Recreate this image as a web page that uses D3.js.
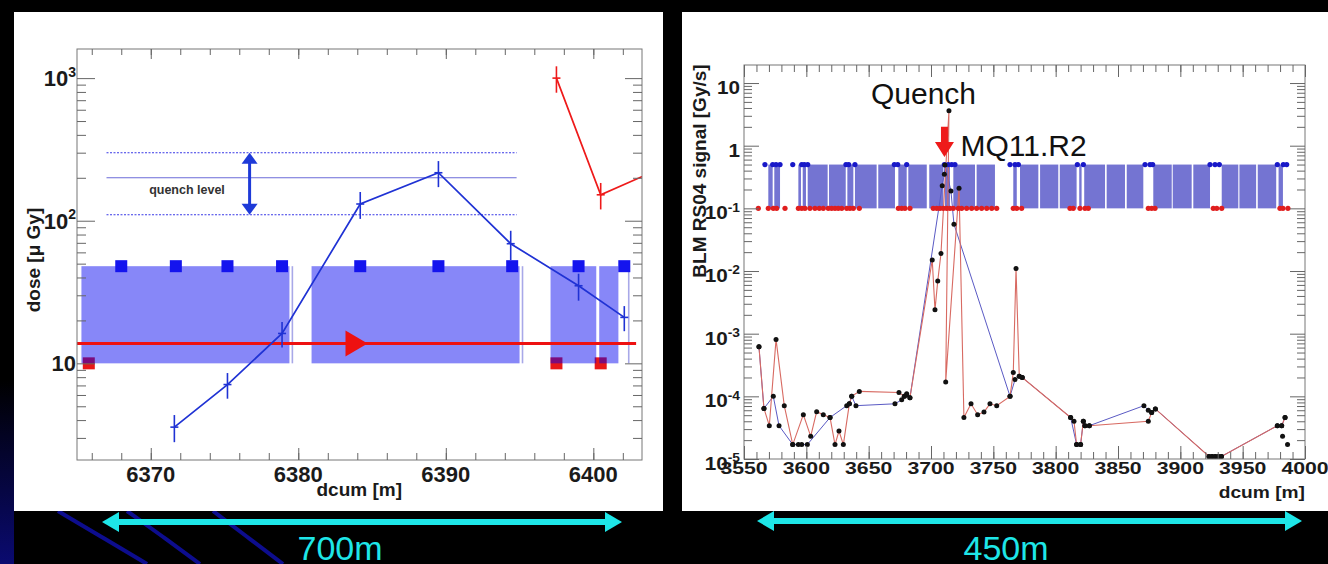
<!DOCTYPE html>
<html>
<head>
<meta charset="utf-8">
<script src="https://cdn.jsdelivr.net/npm/d3@7"></script>
<style>
body { margin: 0; background: #000; }
text { font-family: "Liberation Sans", Arial, sans-serif; }
</style>
</head>
<body>
<script>
// ---------- left plot : dose vs dcum ----------
var doseX   = [6371.6, 6375.2, 6378.9, 6384.2, 6389.5, 6394.4, 6399.0, 6402.1];
var doseY   = [3.57, 7.1, 16.2, 131, 217, 69, 35, 21];
var doseErr = [0.77, 1.45, 3.3, 28, 45, 16, 7.5, 4.2];
var doseRedX   = [6397.5, 6400.5, 6406.0];
var doseRedY   = [1000, 152, 270];
var doseRedErr = [210, 32, 0];
var quenchLevel = [110, 200, 300];          // low, nominal, high
var leftBands = [[6365.3, 6379.4], [6380.9, 6395.0], [6397.1, 6400.2], [6400.4, 6401.7]];
var leftBandRange = [10, 48];
var leftGaps = [6379.6, 6395.2, 6402.4];
var leftBlueMon = [6368.0, 6371.7, 6375.2, 6378.9, 6384.2, 6389.5, 6394.5, 6399.0, 6402.1];
var leftRedMon  = [6365.8, 6397.5, 6400.5];
var beamDose = 13.8;
var beamArrowX = [6383.2, 6384.7];
var leftXTicks = [6370, 6380, 6390, 6400];
var leftYTicks = [10, 100, 1000];
var leftYLabels = [["10", ""], ["10", "2"], ["10", "3"]];

// ---------- right plot : BLM signal vs dcum ----------
var blmRedX = [3562, 3566, 3570.3, 3575.7, 3582.3, 3589.1, 3597.6, 3603.5, 3608.3, 3613.6,
  3619, 3623, 3626.2, 3629.7, 3634.5, 3636.4, 3642.5, 3674.3, 3678.6, 3680.5,
  3683.1, 3701, 3703.2, 3705.4, 3708, 3714.4, 3711.8, 3722.5, 3726.4, 3732.1,
  3737.4, 3742.5, 3747.3, 3752.7, 3763.4, 3766, 3768.2, 3770.8, 3773.2, 3812,
  3814.7, 3816.8, 3820, 3822.2, 3823.5, 3827, 3874.3, 3877, 3880, 3923,
  3925.5, 3928, 3930.5, 3933, 3977.8, 3981.3, 3984];
var blmRedY = [6.2e-4, 6.4e-5, 3.4e-5, 8.1e-4, 7.1e-5, 1.7e-5, 5.1e-5, 2.3e-5, 5.7e-5, 5.1e-5,
  4.6e-5, 1.7e-5, 2.8e-5, 1.7e-5, 7.6e-5, 1.0e-4, 1.2e-4, 1.15e-4, 1.0e-4, 1.1e-4,
  9.5e-5, 1.5e-2, 2.4e-3, 6.9e-3, 1.9e-2, 3.6, 1.7e-4, 0.21, 4.6e-5, 7.6e-5,
  5.1e-5, 5.6e-5, 7.6e-5, 7.1e-5, 1.0e-4, 2.4e-4, 1.1e-2, 2.1e-4, 2.0e-4, 4.6e-5,
  4.0e-5, 1.7e-5, 1.7e-5, 4.0e-5, 3.4e-5, 3.4e-5, 4.0e-5, 5.5e-5, 6.3e-5, 1.1e-5,
  1.1e-5, 1.1e-5, 1.1e-5, 1.1e-5, 3.4e-5, 3.4e-5, 4.6e-5];
var blmBlueX = [3562, 3566, 3573.5, 3578.1, 3589.1, 3593.6, 3596.3, 3600.8, 3619, 3632.4,
  3634.5, 3636.4, 3639.8, 3671.1, 3676.5, 3678.6, 3680.5, 3683.1, 3709, 3710.7,
  3711.2, 3716, 3718.4, 3763.4, 3767.4, 3770.8, 3773.2, 3812, 3816.8, 3820,
  3822.2, 3823.5, 3827, 3870.8, 3874.3, 3877, 3880, 3923, 3925.5, 3928,
  3930.5, 3933, 3977.8, 3981.3, 3984];
var blmBlueY = [6.2e-4, 6.4e-5, 1.0e-4, 3.4e-5, 1.7e-5, 1.7e-5, 1.7e-5, 1.7e-5, 4.6e-5, 7.1e-5,
  7.6e-5, 1.0e-4, 7.1e-5, 7.6e-5, 8.8e-5, 1.0e-4, 1.05e-4, 9.5e-5, 0.23, 0.35,
  0.49, 0.19, 0.056, 1.0e-4, 1.85e-4, 2.1e-4, 2.0e-4, 4.6e-5, 1.7e-5, 1.7e-5,
  4.0e-5, 3.4e-5, 3.4e-5, 7.1e-5, 6.0e-5, 5.5e-5, 6.3e-5, 1.1e-5, 1.1e-5, 1.1e-5,
  1.1e-5, 1.1e-5, 3.4e-5, 3.4e-5, 4.6e-5];
var blmExtraX = [3982, 3986];
var blmExtraY = [2.3e-5, 1.7e-5];
var rightBands = [[3569.5, 3573.0], [3574.3, 3578.9], [3593.6, 3595.7], [3597.1, 3599.7], [3601.1, 3617.1],
  [3618.2, 3631.6], [3632.9, 3637.7], [3639.0, 3656.4], [3657.7, 3671.1], [3673.8, 3680.5],
  [3681.8, 3696.6], [3698.6, 3709.9], [3711.2, 3715.2], [3717.9, 3735.3], [3736.6, 3751.3],
  [3766.0, 3768.8], [3771.4, 3786.1], [3787.5, 3802.1], [3803.3, 3816.8], [3818.9, 3820.8],
  [3822.9, 3839.6], [3840.9, 3855.6], [3857.0, 3870.3], [3878.3, 3893.1], [3893.9, 3909.1],
  [3910.4, 3923.8], [3933.2, 3946.5], [3947.4, 3960.8], [3962.1, 3976.9], [3978.8, 3982.3]];
var rightBandRange = [0.1, 0.5];
var rightBlueMon = [3566.8, 3573.0, 3575.7, 3578.9, 3589.1, 3596.3, 3598.4, 3601.1, 3631.8, 3634.0,
  3639.0, 3670.6, 3673.3, 3680.5, 3710.7, 3713.9, 3716.6, 3719.2, 3763.4, 3767.4,
  3770.1, 3817.4, 3822.2, 3871.7, 3875.7, 3877.8, 3923.8, 3927.8, 3931.3, 3977.8,
  3982.6, 3985.3];
var rightRedMon = [3561.5, 3569.5, 3573.5, 3576.2, 3582.9, 3593.6, 3596.3, 3598.9, 3602.9, 3606.9,
  3610.4, 3613.6, 3617.6, 3620.3, 3623.0, 3625.6, 3628.4, 3632.4, 3635.0, 3637.7,
  3642.5, 3673.8, 3676.5, 3679.1, 3683.1, 3701.8, 3704.6, 3707.2, 3709.9, 3712.6,
  3715.2, 3717.9, 3721.9, 3724.6, 3728.6, 3732.6, 3736.6, 3740.6, 3744.7, 3748.7,
  3752.7, 3766.0, 3768.8, 3772.7, 3811.5, 3814.1, 3819.5, 3823.5, 3826.2, 3874.3,
  3877.0, 3879.7, 3926.4, 3929.2, 3933.2, 3979.9, 3982.3, 3986.3];
var quenchX = 3710.8;
var quenchArrowY = [2.0, 1.15, 0.66];   // shaft top, head base, tip
var rightXTicks = [3550, 3600, 3650, 3700, 3750, 3800, 3850, 3900, 3950, 4000];
var rightYTicks = [10, 1, 0.1, 0.01, 0.001, 0.0001, 0.00001];
var rightYLabels = [["10", ""], ["1", ""], ["10", "-1"], ["10", "-2"], ["10", "-3"], ["10", "-4"], ["10", "-5"]];

var svg = d3.select("body").append("svg").attr("width", 1328).attr("height", 564);

// slide background
svg.append("rect").attr("width", 1328).attr("height", 564).attr("fill", "#000");
var grad = svg.append("defs").append("linearGradient").attr("id", "glow")
    .attr("x1", 0).attr("y1", 0).attr("x2", 0).attr("y2", 1);
grad.append("stop").attr("offset", "0").attr("stop-color", "#000");
grad.append("stop").attr("offset", "1").attr("stop-color", "#0a0a70");
svg.append("rect").attr("x", 0).attr("y", 380).attr("width", 14).attr("height", 184).attr("fill", "url(#glow)");
var streaks = [[[58, 511], [100, 536], [147, 564]], [[127, 511], [162, 536], [200, 564]], [[213, 511], [246, 536], [283, 564]]];
svg.selectAll(".streak").data(streaks).enter().append("path")
    .attr("d", d3.line().curve(d3.curveBasis))
    .attr("fill", "none").attr("stroke", "#0d0d8e").attr("stroke-width", 4);

svg.append("rect").attr("x", 14).attr("y", 12).attr("width", 649).attr("height", 499).attr("fill", "#fff");
svg.append("rect").attr("x", 682).attr("y", 12).attr("width", 646).attr("height", 499).attr("fill", "#fff");

// ROOT-like frame with inward ticks on all four sides
function frame(g, x, y, xMinor, xMajor, yMinor, yMajor, len) {
    var x0 = x.range()[0], x1 = x.range()[1], y0 = y.range()[0], y1 = y.range()[1];
    g.append("rect").attr("x", x0).attr("y", y1).attr("width", x1 - x0).attr("height", y0 - y1)
        .attr("fill", "none").attr("stroke", "#777");
    var defs = [
        [d3.axisBottom(x), xMinor, len.b[0], "translate(0," + y0 + ")"],
        [d3.axisBottom(x), xMajor, len.b[1], "translate(0," + y0 + ")"],
        [d3.axisTop(x), xMinor, len.t[0], "translate(0," + y1 + ")"],
        [d3.axisTop(x), xMajor, len.t[1], "translate(0," + y1 + ")"],
        [d3.axisLeft(y), yMinor, len.l[0], "translate(" + x0 + ",0)"],
        [d3.axisLeft(y), yMajor, len.l[1], "translate(" + x0 + ",0)"],
        [d3.axisRight(y), yMinor, len.r[0], "translate(" + x1 + ",0)"],
        [d3.axisRight(y), yMajor, len.r[1], "translate(" + x1 + ",0)"]
    ];
    defs.forEach(function(d) {
        g.append("g").attr("transform", d[3])
            .call(d[0].tickValues(d[1]).tickSize(-d[2]).tickFormat(""))
            .call(function(s) {
                s.select(".domain").remove();
                s.selectAll("line").attr("stroke", "#666");
            });
    });
}

function powLabel(g, x, y, parts, size, supSize, sx, anchor) {
    var t = g.append("text")
        .attr("transform", "translate(" + x + "," + y + ") scale(" + sx + ",1)")
        .attr("text-anchor", anchor).attr("font-weight", "bold")
        .attr("font-size", size).attr("fill", "#1a1a1a");
    t.append("tspan").text(parts[0]);
    if (parts[1]) t.append("tspan").attr("dy", -size * 0.42).attr("font-size", supSize).text(parts[1]);
}

// ================= LEFT =================
var xL = d3.scaleLinear().domain([6365, 6403.3]).range([77, 642]);
var yL = d3.scaleLog().domain([2.1, 1600]).range([460, 49]);
var gL = svg.append("g");
gL.append("clipPath").attr("id", "clipL").append("rect")
    .attr("x", 77).attr("y", 49).attr("width", 565).attr("height", 411);

var sq = 12;
gL.selectAll(".redmon").data(leftRedMon).enter().append("rect")
    .attr("x", function(d) { return xL(d) - sq / 2; })
    .attr("y", yL(leftBandRange[0]) - sq / 2)
    .attr("width", sq).attr("height", sq).attr("fill", "#e81818");

gL.selectAll(".band").data(leftBands).enter().append("rect")
    .attr("x", function(d) { return xL(d[0]); })
    .attr("y", yL(leftBandRange[1]))
    .attr("width", function(d) { return xL(d[1]) - xL(d[0]); })
    .attr("height", yL(leftBandRange[0]) - yL(leftBandRange[1]))
    .attr("fill", "#0000f0").attr("fill-opacity", 0.47);
gL.selectAll(".gap").data(leftGaps).enter().append("line")
    .attr("x1", function(d) { return xL(d); }).attr("x2", function(d) { return xL(d); })
    .attr("y1", yL(leftBandRange[1])).attr("y2", yL(leftBandRange[0]))
    .attr("stroke", "#a8a8e8").attr("stroke-width", 1.6);

gL.selectAll(".bluemon").data(leftBlueMon).enter().append("rect")
    .attr("x", function(d) { return xL(d) - sq / 2; })
    .attr("y", yL(leftBandRange[1]) - sq / 2)
    .attr("width", sq).attr("height", sq).attr("fill", "#1414ee");

// quench level lines + arrow
var qx0 = 6367.0, qx1 = 6394.8, qArrow = 6376.7;
gL.selectAll(".ql").data(quenchLevel).enter().append("line")
    .attr("x1", xL(qx0)).attr("x2", xL(qx1))
    .attr("y1", function(d) { return yL(d); }).attr("y2", function(d) { return yL(d); })
    .attr("stroke", function(d, i) { return i === 1 ? "#6b6bd8" : "#3838e6"; })
    .attr("stroke-width", 1.1)
    .attr("stroke-dasharray", function(d, i) { return i === 1 ? null : "2,1.5"; });
var ax = xL(qArrow), aTop = yL(quenchLevel[2]), aBot = yL(quenchLevel[0]);
gL.append("line").attr("x1", ax).attr("x2", ax).attr("y1", aTop + 8).attr("y2", aBot - 8)
    .attr("stroke", "#1e3ad8").attr("stroke-width", 3);
gL.append("path").attr("d", "M" + ax + "," + aTop + "l8,11h-16z").attr("fill", "#1e3ad8");
gL.append("path").attr("d", "M" + ax + "," + aBot + "l8,-11h-16z").attr("fill", "#1e3ad8");
gL.append("text").attr("x", 187).attr("y", 194).attr("text-anchor", "middle")
    .attr("font-size", 12.5).attr("font-weight", "bold").attr("fill", "#333").text("quench level");

// beam direction
var by = yL(beamDose);
gL.append("line").attr("x1", xL(6365)).attr("x2", xL(6402.9)).attr("y1", by).attr("y2", by)
    .attr("stroke", "#ee1111").attr("stroke-width", 3);
gL.append("path")
    .attr("d", "M" + xL(beamArrowX[0]) + "," + (by - 13) + "L" + xL(beamArrowX[1]) + "," + by +
        "L" + xL(beamArrowX[0]) + "," + (by + 13) + "Z")
    .attr("fill", "#ee1111");

// dose curves
var bluePts = doseX.map(function(x, i) { return { x: x, y: doseY[i], e: doseErr[i] }; });
var redPts = doseRedX.map(function(x, i) { return { x: x, y: doseRedY[i], e: doseRedErr[i] }; });
var doseLine = d3.line().x(function(d) { return xL(d.x); }).y(function(d) { return yL(d.y); });
gL.append("path").datum(bluePts).attr("d", doseLine)
    .attr("fill", "none").attr("stroke", "#1f32d4").attr("stroke-width", 1.7);
gL.append("path").datum(redPts).attr("clip-path", "url(#clipL)").attr("d", doseLine)
    .attr("fill", "none").attr("stroke", "#ee1a1a").attr("stroke-width", 1.7);

function errBars(data, color) {
    var g = gL.append("g").attr("clip-path", "url(#clipL)").attr("stroke", color).attr("stroke-width", 1.6);
    g.selectAll(".ev").data(data.filter(function(d) { return d.e > 0; })).enter().append("line")
        .attr("x1", function(d) { return xL(d.x); }).attr("x2", function(d) { return xL(d.x); })
        .attr("y1", function(d) { return yL(d.y - d.e); }).attr("y2", function(d) { return yL(d.y + d.e); });
    g.selectAll(".eh").data(data.filter(function(d) { return d.e > 0; })).enter().append("line")
        .attr("x1", function(d) { return xL(d.x) - 4; }).attr("x2", function(d) { return xL(d.x) + 4; })
        .attr("y1", function(d) { return yL(d.y); }).attr("y2", function(d) { return yL(d.y); });
}
errBars(bluePts, "#1f32d4");
errBars(redPts, "#ee1a1a");

var lMinor = yL.ticks().filter(function(v) { return leftYTicks.indexOf(v) < 0; });
frame(gL, xL, yL, d3.range(6366, 6404, 2), leftXTicks, lMinor, leftYTicks,
    { b: [7, 12], t: [6, 10], l: [9, 18], r: [9, 17] });

leftXTicks.forEach(function(v) {
    gL.append("text").attr("x", xL(v)).attr("y", 482).attr("text-anchor", "middle")
        .attr("font-size", 22).attr("font-weight", "bold").attr("fill", "#1a1a1a").text(v);
});
leftYTicks.forEach(function(v, i) {
    powLabel(gL, 76, yL(v) + 8, leftYLabels[i], 22, 14, 1, "end");
});
gL.append("text").attr("x", 402).attr("y", 496).attr("text-anchor", "end")
    .attr("font-size", 19).attr("font-weight", "bold").attr("fill", "#1a1a1a").text("dcum [m]");
gL.append("text").attr("transform", "translate(40,260) rotate(-90)").attr("text-anchor", "middle")
    .attr("font-size", 19).attr("font-weight", "bold").attr("fill", "#1a1a1a").text("dose [\u03bc Gy]");

// ================= RIGHT =================
var xR = d3.scaleLinear().domain([3550, 4000]).range([744, 1305]);
var yR = d3.scaleLog().domain([1e-5, 19.4]).range([459, 65]);
var gR = svg.append("g");

gR.selectAll(".band").data(rightBands).enter().append("rect")
    .attr("x", function(d) { return xR(d[0]); })
    .attr("y", yR(rightBandRange[1]))
    .attr("width", function(d) { return xR(d[1]) - xR(d[0]); })
    .attr("height", yR(rightBandRange[0]) - yR(rightBandRange[1]))
    .attr("fill", "#7474d2");

var lineR = d3.line().x(function(d) { return xR(d[0]); }).y(function(d) { return yR(d[1]); });
var redR = blmRedX.map(function(x, i) { return [x, blmRedY[i]]; });
var blueR = blmBlueX.map(function(x, i) { return [x, blmBlueY[i]]; });
var extraR = blmExtraX.map(function(x, i) { return [x, blmExtraY[i]]; });
gR.append("path").datum(blueR).attr("d", lineR)
    .attr("fill", "none").attr("stroke", "#5a5ac4").attr("stroke-width", 1);
gR.append("path").datum(redR).attr("d", lineR)
    .attr("fill", "none").attr("stroke", "#d86a62").attr("stroke-width", 1.1);

gR.selectAll(".rm").data(rightRedMon).enter().append("circle")
    .attr("cx", function(d) { return xR(d); }).attr("cy", yR(rightBandRange[0]))
    .attr("r", 2.6).attr("fill", "#e01e1e");
gR.selectAll(".bm").data(rightBlueMon).enter().append("circle")
    .attr("cx", function(d) { return xR(d); }).attr("cy", yR(rightBandRange[1]))
    .attr("r", 2.6).attr("fill", "#1818c8");
gR.selectAll(".pt").data(redR.concat(blueR, extraR)).enter().append("circle")
    .attr("cx", function(d) { return xR(d[0]); }).attr("cy", function(d) { return yR(d[1]); })
    .attr("r", 2.5).attr("fill", "#111");

var rMinor = yR.ticks().filter(function(v) { return Math.abs(Math.log10(v) - Math.round(Math.log10(v))) > 1e-6; });
frame(gR, xR, yR, d3.range(3550, 4001, 10), rightXTicks, rMinor, rightYTicks,
    { b: [7, 13], t: [7, 12], l: [8, 15], r: [8, 15] });

rightXTicks.forEach(function(v) {
    gR.append("text").attr("transform", "translate(" + xR(v) + ",474) scale(1.25,1)")
        .attr("text-anchor", "middle").attr("font-size", 17).attr("font-weight", "bold")
        .attr("fill", "#1a1a1a").text(v);
});
rightYTicks.forEach(function(v, i) {
    powLabel(gR, 740, yR(v) + 11, rightYLabels[i], 18, 12, 1.15, "end");
});
gR.append("text").attr("transform", "translate(1305,498) scale(1.2,1)").attr("text-anchor", "end")
    .attr("font-size", 16).attr("font-weight", "bold").attr("fill", "#1a1a1a").text("dcum [m]");
gR.append("text").attr("transform", "translate(706,171) rotate(-90)").attr("text-anchor", "middle")
    .attr("font-size", 19).attr("font-weight", "bold").attr("fill", "#1a1a1a").text("BLM RS04 signal [Gy/s]");

// quench marker
var qxp = xR(quenchX);
gR.append("path")
    .attr("d", "M" + (qxp - 3.5) + "," + yR(quenchArrowY[0]) + "V" + yR(quenchArrowY[1]) + "H" + (qxp - 9.5) +
        "L" + qxp + "," + yR(quenchArrowY[2]) + "L" + (qxp + 9.5) + "," + yR(quenchArrowY[1]) +
        "H" + (qxp + 3.5) + "V" + yR(quenchArrowY[0]) + "Z")
    .attr("fill", "#ee1a1a");
gR.append("text").attr("x", qxp - 21).attr("y", 104).attr("text-anchor", "middle")
    .attr("font-size", 30).attr("fill", "#111").text("Quench");
gR.append("text").attr("x", qxp + 16).attr("y", 156)
    .attr("font-size", 30).attr("fill", "#111").text("MQ11.R2");

// ================= span arrows =================
function spanArrow(x0, x1, y, label, cx) {
    var c = "#1ee6e8";
    svg.append("line").attr("x1", x0 + 14).attr("x2", x1 - 14).attr("y1", y).attr("y2", y)
        .attr("stroke", c).attr("stroke-width", 6);
    svg.append("path").attr("d", "M" + x0 + "," + y + "l17,-10v20z").attr("fill", c);
    svg.append("path").attr("d", "M" + x1 + "," + y + "l-17,-10v20z").attr("fill", c);
    svg.append("text").attr("x", cx).attr("y", 560)
        .attr("text-anchor", "middle").attr("font-size", 34).attr("fill", c).text(label);
}
spanArrow(102, 622, 522, "700m", 340);
spanArrow(757, 1302, 521, "450m", 1006);
</script>
</body>
</html>
